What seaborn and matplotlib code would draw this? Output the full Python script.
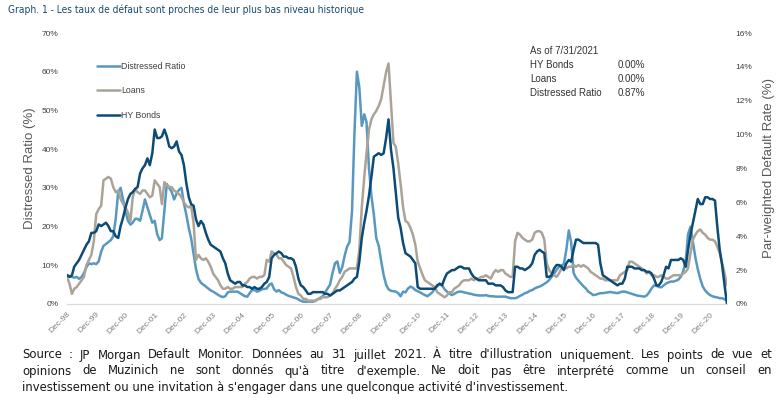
import pandas as pd
import numpy as np
import matplotlib
matplotlib.use("Agg")
import matplotlib.pyplot as plt
import matplotlib.dates as mdates
from matplotlib.ticker import FuncFormatter
import seaborn as sns

# monthly values, Dec-98 .. Jul-21
DISTRESSED = [
    7.5, 7.2, 7, 6.8, 7, 6.5, 7, 8, 9.5, 10.5, 10.3, 10.5,
    10.3, 11, 13.5, 15, 15.5, 16, 16.5, 17.5, 22, 29, 30, 27,
    24, 21.5, 20.5, 21, 22, 22, 21.5, 24, 27, 25, 23, 21,
    21.5, 18, 16.5, 17, 24, 31, 30, 29, 27, 28.5, 29.5, 30,
    26, 23, 19.5, 17, 13, 9, 6.5, 5.5, 5, 4.5, 4, 3.5,
    3.2, 2.8, 2.4, 2, 1.8, 2, 3, 3.2, 3.2, 3.2, 3.2, 2.8,
    2.4, 2, 1.9, 2.8, 3.6, 3.6, 3.2, 3.4, 3.8, 3.9, 4, 5,
    5.3, 3.8, 3.2, 3.6, 3, 2.8, 2.4, 2.1, 1.9, 1.7, 1.5, 1.2,
    0.8, 0.6, 0.6, 0.6, 0.6, 0.6, 0.8, 1.2, 1.6, 2, 3, 4,
    5, 8, 10.5, 11, 8, 9.5, 12.5, 14.8, 16, 24, 44, 60,
    56, 46, 49, 47, 35, 28, 23, 17, 15, 11, 7.5, 5,
    3.8, 3.4, 3.3, 3.2, 2.8, 2, 3.2, 3, 4, 4.5, 4.2, 3.6,
    3.3, 3, 2.6, 2.3, 2, 2.5, 3, 4, 4.6, 5.2, 4.9, 3.8,
    3.2, 2.7, 2.3, 2.6, 3, 3.2, 3.2, 3, 2.9, 2.7, 2.6, 2.4,
    2.3, 2.2, 2.2, 2.2, 2.3, 2.1, 2, 2, 1.9, 1.9, 1.9, 1.9,
    1.9, 1.7, 1.5, 1.5, 1.5, 1.7, 2.1, 2.4, 2.8, 3, 3.4, 3.6,
    4, 4.3, 4.5, 4.8, 5.2, 5.6, 6.2, 7, 7.8, 8.8, 9.6, 10,
    10.3, 14, 19, 16, 8, 6.8, 6, 5.3, 4.6, 4, 3.2, 2.8,
    2.3, 2.4, 2.6, 2.8, 2.8, 2.9, 3, 3.1, 3, 2.9, 2.8, 3,
    3.2, 3.2, 3, 2.8, 2.6, 2.4, 2.2, 2.1, 2, 1.9, 2.2, 3,
    4, 4.8, 4.7, 4.4, 4.3, 4.8, 5.3, 5.6, 5.8, 5.8, 6, 6.3,
    7, 8.5, 11, 18, 20, 16, 12, 9, 6.5, 4.5, 3.5, 2.8,
    2.3, 2, 1.8, 1.7, 1.5, 1.5, 1.2, 0.87,
]

LOANS = [
    1.6, 1.2, 0.6, 0.9, 1.0, 1.2, 1.4, 1.6, 2.3, 2.6, 2.9, 3.7,
    5.3, 5.6, 5.8, 7.3, 7.4, 7.5, 7.4, 6.9, 6.6, 6.7, 6.2, 5.9,
    5.7, 5.4, 4.9, 6.3, 6.8, 6.6, 6.5, 6.7, 6.7, 6.5, 6.3, 6.4,
    7.3, 7.1, 6.9, 5.9, 7.2, 7.0, 6.9, 6.9, 6.7, 6.6, 6.5, 6.3,
    6.0, 5.8, 5.7, 5.8, 4.8, 2.6, 2.9, 2.7, 2.6, 2.7, 2.5, 2.2,
    1.8, 1.6, 1.4, 1.1, 0.9, 0.9, 1.0, 0.9, 0.9, 1.0, 1.0, 1.0,
    1.0, 1.2, 1.3, 1.5, 1.6, 1.6, 1.5, 1.6, 1.6, 1.7, 2.6, 2.5,
    3.1, 3.0, 2.9, 2.7, 2.7, 2.5, 2.3, 2.2, 2.1, 1.6, 1.0, 0.6,
    0.5, 0.3, 0.3, 0.2, 0.2, 0.2, 0.2, 0.3, 0.3, 0.4, 0.4, 0.4,
    0.5, 0.6, 0.9, 1.1, 1.4, 1.6, 1.9, 2.0, 2.1, 2.1, 2.1, 2.1,
    3.2, 5.7, 7.5, 8.9, 10.3, 10.9, 11.2, 11.4, 11.7, 12.1, 12.9, 13.7,
    14.2, 11.9, 9.5, 9.3, 8.3, 7.1, 5.7, 4.9, 4.8, 4.5, 4.1, 3.5,
    2.5, 2.1, 1.7, 1.4, 1.3, 1.2, 1.1, 1.0, 0.7, 0.6, 0.5, 0.4,
    0.5, 0.7, 0.7, 0.9, 1.0, 1.1, 1.3, 1.4, 1.4, 1.4, 1.5, 1.4,
    1.5, 1.5, 1.6, 1.6, 1.7, 1.6, 1.5, 1.8, 2.0, 1.9, 2.0, 2.0,
    1.8, 1.7, 1.6, 1.6, 3.7, 4.2, 4.1, 3.9, 3.8, 3.7, 3.7, 3.8,
    4.2, 4.3, 4.3, 4.2, 3.8, 2.4, 2.0, 1.8, 1.7, 1.6, 1.8, 2.1,
    2.2, 2.1, 2.2, 2.2, 2.3, 2.2, 2.3, 2.2, 2.3, 2.2, 2.1, 1.9,
    1.8, 1.7, 1.6, 1.5, 1.5, 1.4, 1.4, 1.4, 1.4, 1.4, 1.4, 1.7,
    1.8, 1.9, 2.0, 2.5, 2.5, 2.4, 2.3, 2.2, 2.1, 2.0, 1.8, 1.9,
    1.7, 1.7, 1.6, 1.6, 1.7, 1.6, 1.5, 1.5, 1.6, 1.7, 1.7, 1.7,
    1.7, 1.8, 1.9, 2.1, 3.0, 3.8, 4.1, 4.3, 4.4, 4.2, 4.1, 3.9,
    3.8, 3.8, 3.7, 3.4, 3.0, 2.4, 1.8, 1.1,
]

HY_BONDS = [
    1.7, 1.6, 1.7, 2.2, 2.4, 2.6, 2.9, 3.2, 3.5, 3.7, 4.2, 4.2,
    4.3, 4.7, 4.6, 4.7, 4.8, 4.6, 4.3, 4.3, 4.0, 3.9, 4.6, 5.1,
    5.7, 6.2, 6.5, 6.6, 6.8, 6.9, 7.7, 8.0, 8.2, 8.6, 8.2, 8.9,
    10.3, 9.8, 9.8, 9.9, 10.3, 9.9, 9.3, 9.2, 9.3, 9.6, 9.0, 8.8,
    8.2, 7.1, 6.3, 5.9, 5.8, 5.0, 4.6, 4.9, 4.7, 4.2, 3.8, 3.5,
    3.4, 3.3, 3.2, 3.1, 2.7, 2.4, 1.8, 1.4, 1.3, 1.2, 1.3, 1.3,
    1.1, 1.1, 1.0, 1.0, 0.9, 1.0, 0.9, 0.9, 1.0, 1.2, 1.3, 1.6,
    2.7, 2.9, 3.0, 3.1, 3.0, 2.8, 2.8, 2.7, 2.7, 2.6, 2.2, 1.5,
    1.1, 1.0, 0.8, 0.6, 0.6, 0.7, 0.7, 0.7, 0.7, 0.7, 0.6, 0.6,
    0.5, 0.6, 0.7, 0.8, 0.8, 0.9, 1.0, 1.1, 1.2, 1.3, 1.5, 1.6,
    2.5, 3.9, 4.8, 5.5, 6.4, 7.5, 8.7, 8.8, 8.9, 8.8, 8.9, 9.8,
    10.9, 9.1, 8.0, 6.6, 5.1, 4.5, 3.6, 3.0, 2.9, 2.8, 2.6, 2.4,
    1.0, 0.9, 0.9, 0.9, 0.9, 0.9, 0.9, 0.9, 1.1, 1.2, 1.1, 1.5,
    1.8, 1.9, 2.0, 2.0, 2.1, 2.2, 2.2, 2.1, 2.1, 2.1, 1.8, 1.6,
    1.5, 1.4, 1.4, 1.4, 1.4, 1.2, 1.2, 1.2, 1.1, 1.1, 1.1, 1.0,
    0.8, 0.7, 0.7, 0.7, 2.2, 2.2, 2.1, 2.1, 2.0, 2.1, 2.2, 2.4,
    2.9, 3.1, 3.2, 3.1, 3.0, 1.6, 1.6, 1.7, 2.1, 2.3, 2.3, 2.2,
    2.0, 2.4, 2.6, 2.5, 3.2, 3.8, 3.8, 3.7, 3.6, 3.6, 3.6, 3.6,
    3.6, 3.6, 3.5, 2.4, 1.7, 1.6, 1.5, 1.4, 1.3, 1.2, 1.1, 1.2,
    1.2, 1.5, 2.2, 2.2, 2.2, 2.1, 2.1, 2.1, 2.0, 2.0, 1.9, 1.9,
    1.8, 1.5, 1.1, 1.1, 1.3, 1.7, 2.2, 2.1, 2.6, 2.6, 2.6, 2.6,
    2.7, 2.6, 2.2, 3.2, 4.1, 4.8, 5.5, 6.2, 5.9, 5.9, 6.3, 6.3,
    6.2, 6.2, 6.1, 4.6, 3.2, 2.3, 1.1, 0.0,
]

SERIES = ["Distressed Ratio", "Loans", "HY Bonds"]
COLORS = {"Distressed Ratio": "#5898c0", "Loans": "#aba398", "HY Bonds": "#0c4b76"}

TITLE = "Graph. 1 - Les taux de défaut sont proches de leur plus bas niveau historique"
FOOTER = [
    "Source : JP Morgan Default Monitor.  Données au 31 juillet 2021. À titre d'illustration uniquement. Les points de vue et",
    "opinions de Muzinich ne sont donnés qu'à titre d'exemple.   Ne doit pas être interprété comme un conseil en",
    "investissement ou une invitation à s'engager dans une quelconque activité d'investissement.",
]
AS_OF = [("As of 7/31/2021", ""), ("HY Bonds", "0.00%"), ("Loans", "0.00%"),
         ("Distressed Ratio", "0.87%")]

W, H = 784, 398


def fx(px):
    return px / W


def fy(py):
    return 1 - py / H


def justified(fig, text, y, x0, x1, **kw):
    words = text.split()
    objs = [fig.text(0, fy(y), w, va="center", ha="left", **kw) for w in words]
    fig.canvas.draw()
    r = fig.canvas.get_renderer()
    widths = [o.get_window_extent(r).width for o in objs]
    gap = (x1 - x0 - sum(widths)) / max(len(words) - 1, 1)
    x = x0
    for o, w in zip(objs, widths):
        o.set_x(fx(x))
        x += w + gap


sns.set_style("white")
plt.rcParams["font.family"] = ["Liberation Sans", "DejaVu Sans"]

dates = pd.date_range("1998-12-01", periods=len(DISTRESSED), freq="MS")
df = pd.DataFrame({"date": dates, "Distressed Ratio": DISTRESSED,
                   "Loans": LOANS, "HY Bonds": HY_BONDS})

fig = plt.figure(figsize=(W / 100, H / 100), dpi=100)
ax = fig.add_axes([fx(67), fy(304), fx(727 - 67), (304 - 33) / H])
ax2 = ax.twinx()

sns.lineplot(data=df, x="date", y="Distressed Ratio", ax=ax,
             color=COLORS["Distressed Ratio"], lw=1.8, label="Distressed Ratio", legend=False)
sns.lineplot(data=df, x="date", y="Loans", ax=ax2,
             color=COLORS["Loans"], lw=1.8, label="Loans", legend=False)
sns.lineplot(data=df, x="date", y="HY Bonds", ax=ax2,
             color=COLORS["HY Bonds"], lw=1.8, label="HY Bonds", legend=False)

ax.set_xlim(dates[0], dates[-1])
ax.set_ylim(0, 70)
ax2.set_ylim(0, 16)
ax.set_yticks(range(0, 71, 10))
ax2.set_yticks(range(0, 17, 2))
pct = FuncFormatter(lambda v, _: f"{v:.0f}%")
ax.yaxis.set_major_formatter(pct)
ax2.yaxis.set_major_formatter(pct)

ax.xaxis.set_major_locator(mdates.MonthLocator(bymonth=12))
ax.xaxis.set_major_formatter(mdates.DateFormatter("%b-%y"))
for lab in ax.get_xticklabels():
    lab.set_rotation(45)
    lab.set_ha("right")
    lab.set_rotation_mode("anchor")

ax.tick_params(axis="x", labelsize=6, colors="#7f7f7f", length=3, width=0.8, pad=2)
ax.tick_params(axis="x", color="#d9d9d9")
ax.tick_params(axis="y", labelsize=6, labelcolor="#404040", length=0, pad=6)
ax2.tick_params(axis="y", labelsize=6, labelcolor="#404040", length=0, pad=6)

for a in (ax, ax2):
    for s in ("top", "left", "right"):
        a.spines[s].set_visible(False)
    a.spines["bottom"].set_color("#d9d9d9")
    a.set_xlabel("")
ax.set_ylabel("Distressed Ratio (%)", fontsize=9.5, color="#595959", labelpad=4)
ax2.set_ylabel("Par-weighted Default Rate (%)", fontsize=9.5, color="#595959", labelpad=8)

h1, l1 = ax.get_legend_handles_labels()
h2, l2 = ax2.get_legend_handles_labels()
ax2.legend(h1 + h2, l1 + l2, loc="upper left", bbox_to_anchor=(fx(97), fy(62)),
           bbox_transform=fig.transFigure, frameon=False, fontsize=6.3,
           labelspacing=1.75, handlelength=2.6, handletextpad=0.15,
           borderpad=0, borderaxespad=0, labelcolor="#404040")

for i, (name, val) in enumerate(AS_OF):
    y = 51 + i * 14
    fig.text(fx(530), fy(y), name, fontsize=7, color="#333333", va="center")
    if val:
        fig.text(fx(618), fy(y), val, fontsize=7, color="#333333", va="center")

fig.text(fx(8), fy(10), TITLE, fontsize=7.3, color="#174a70", va="center",
         family=["DejaVu Sans"], fontstretch="condensed")

FOOT_KW = dict(fontsize=8.35, color="#1a1a1a", family=["DejaVu Sans"])
justified(fig, FOOTER[0], 355, 22, 772, **FOOT_KW)
justified(fig, FOOTER[1], 371, 22, 772, **FOOT_KW)
fig.text(fx(22), fy(387), FOOTER[2], va="center", **FOOT_KW)

fig.savefig("out.png", dpi=100)
